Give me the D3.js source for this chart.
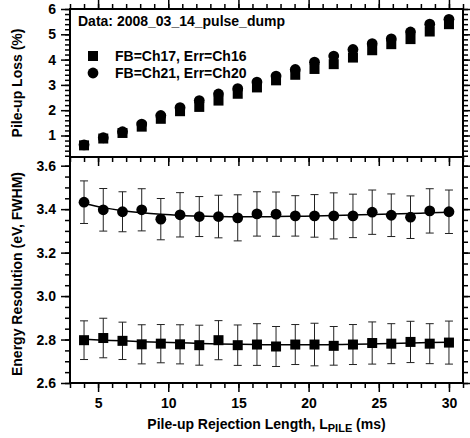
<!DOCTYPE html>
<html>
<head>
<meta charset="utf-8">
<script src="https://cdn.jsdelivr.net/npm/d3@7"></script>
<style>
  body { margin: 0; background: #fff; }
  svg text { font-family: "Liberation Sans", Arial, sans-serif; font-weight: bold; fill: #000; }
</style>
</head>
<body>
<svg id="chart" width="470" height="438"></svg>
<script>
// pile-up rejection length (ms)
const lengths = [4.0, 5.37, 6.74, 8.11, 9.47, 10.84, 12.21, 13.58, 14.95, 16.32,
                 17.68, 19.05, 20.42, 21.79, 23.16, 24.53, 25.89, 27.26, 28.63, 30.0];

// pile-up loss (%)
const lossCh17 = [0.61, 0.88, 1.10, 1.35, 1.66, 1.96, 2.13, 2.38, 2.65, 2.90,
                  3.18, 3.40, 3.63, 3.82, 4.08, 4.37, 4.61, 4.81, 5.11, 5.40];
const lossCh21 = [0.63, 0.91, 1.15, 1.45, 1.79, 2.10, 2.38, 2.64, 2.85, 3.11,
                  3.35, 3.61, 3.90, 4.14, 4.40, 4.63, 4.82, 5.09, 5.40, 5.59];

// energy resolution (eV FWHM) + errors + fit curves
const resCh17 = [2.797, 2.807, 2.794, 2.778, 2.781, 2.778, 2.774, 2.797, 2.774, 2.777,
                 2.768, 2.777, 2.777, 2.771, 2.777, 2.784, 2.781, 2.789, 2.781, 2.786];
const errCh17 = [0.089, 0.091, 0.086, 0.090, 0.088, 0.090, 0.092, 0.090, 0.093, 0.096,
                 0.092, 0.092, 0.098, 0.089, 0.092, 0.097, 0.092, 0.095, 0.092, 0.099];
const fitCh17 = [2.801, 2.797, 2.794, 2.790, 2.787, 2.785, 2.782, 2.780, 2.778, 2.777,
                 2.776, 2.776, 2.776, 2.777, 2.778, 2.780, 2.782, 2.784, 2.786, 2.788];
const resCh21 = [3.432, 3.397, 3.388, 3.397, 3.354, 3.374, 3.366, 3.366, 3.360, 3.378,
                 3.377, 3.369, 3.369, 3.369, 3.369, 3.386, 3.372, 3.363, 3.392, 3.388];
const errCh21 = [0.098, 0.098, 0.092, 0.097, 0.095, 0.102, 0.092, 0.098, 0.106, 0.102,
                 0.102, 0.093, 0.098, 0.106, 0.100, 0.102, 0.098, 0.098, 0.102, 0.100];
const fitCh21 = [3.426, 3.407, 3.393, 3.383, 3.376, 3.371, 3.368, 3.366, 3.365, 3.365,
                 3.366, 3.367, 3.369, 3.371, 3.373, 3.375, 3.378, 3.380, 3.383, 3.386];

const xTicks = [5, 10, 15, 20, 25, 30];
const lossTicks = [1, 2, 3, 4, 5, 6];
const resTicks = [2.6, 2.8, 3.0, 3.2, 3.4, 3.6];

const svg = d3.select("#chart");
const pLeft = 70, pRight = 463, pTop = 9, pMid = 157, pBottom = 383;

const x = d3.scaleLinear().domain([3, 31]).range([pLeft, pRight]);
const yLoss = d3.scaleLinear().domain([0.15, 6]).range([pMid, pTop]);
const yRes = d3.scaleLinear().domain([2.6, 3.64]).range([pBottom, pMid]);

const xMinor = d3.range(3, 31.01, 1);

function styleAxis(g) {
    g.select(".domain").remove();
    g.selectAll(".tick line").attr("stroke", "#000").attr("stroke-width", 1.5);
    g.selectAll(".tick text").attr("font-size", 14).style("font-family", "'Liberation Sans', Arial, sans-serif").style("font-weight", "bold");
}

function addAxis(axis, tx, ty) {
    svg.append("g").attr("transform", `translate(${tx},${ty})`).call(axis).call(styleAxis);
}

// ---- top panel axes ----
addAxis(d3.axisTop(x).tickValues(xMinor).tickSize(5).tickFormat(""), 0, pTop);
addAxis(d3.axisTop(x).tickValues(xTicks).tickSize(9).tickFormat(""), 0, pTop);
addAxis(d3.axisBottom(x).tickValues(xMinor).tickSize(5).tickFormat(""), 0, pMid);
addAxis(d3.axisBottom(x).tickValues(xTicks).tickSize(9).tickFormat(""), 0, pMid);
const lossMinor = d3.range(0.2, 6.01, 0.2);
addAxis(d3.axisLeft(yLoss).tickValues(lossMinor).tickSize(5).tickFormat(""), pLeft, 0);
addAxis(d3.axisLeft(yLoss).tickValues(lossTicks).tickSize(9).tickPadding(5).tickFormat(d3.format("d")), pLeft, 0);
addAxis(d3.axisRight(yLoss).tickValues(lossMinor).tickSize(5).tickFormat(""), pRight, 0);
addAxis(d3.axisRight(yLoss).tickValues(lossTicks).tickSize(9).tickFormat(""), pRight, 0);

// ---- bottom panel axes ----
addAxis(d3.axisBottom(x).tickValues(xMinor).tickSize(5).tickFormat(""), 0, pBottom);
addAxis(d3.axisBottom(x).tickValues(xTicks).tickSize(9).tickPadding(6).tickFormat(d3.format("d")), 0, pBottom);
const resMinor = d3.range(2.6, 3.6401, 0.05);
addAxis(d3.axisLeft(yRes).tickValues(resMinor).tickSize(5).tickFormat(""), pLeft, 0);
addAxis(d3.axisLeft(yRes).tickValues(resTicks).tickSize(9).tickPadding(5).tickFormat(d3.format(".1f")), pLeft, 0);
addAxis(d3.axisRight(yRes).tickValues(resMinor).tickSize(5).tickFormat(""), pRight, 0);
addAxis(d3.axisRight(yRes).tickValues(resTicks).tickSize(9).tickFormat(""), pRight, 0);

// frames
[[pTop, pMid], [pMid, pBottom]].forEach(([a, b]) => {
    svg.append("rect")
        .attr("x", pLeft).attr("y", a)
        .attr("width", pRight - pLeft).attr("height", b - a)
        .attr("fill", "none").attr("stroke", "#000").attr("stroke-width", 2);
});

// ---- top panel: pile-up loss ----
const sq = 10;
svg.append("g").selectAll("rect")
    .data(lengths.map((d, i) => [d, lossCh17[i]]))
    .join("rect")
    .attr("x", d => x(d[0]) - sq / 2).attr("y", d => yLoss(d[1]) - sq / 2)
    .attr("width", sq).attr("height", sq).attr("fill", "#000");
svg.append("g").selectAll("circle")
    .data(lengths.map((d, i) => [d, lossCh21[i]]))
    .join("circle")
    .attr("cx", d => x(d[0])).attr("cy", d => yLoss(d[1]))
    .attr("r", 5.4).attr("fill", "#000");

svg.append("text").attr("x", 78).attr("y", 26).attr("font-size", 14)
    .text("Data: 2008_03_14_pulse_dump");
svg.append("rect").attr("x", 93 - sq / 2).attr("y", 56 - sq / 2).attr("width", sq).attr("height", sq).attr("fill", "#000");
svg.append("circle").attr("cx", 93).attr("cy", 73).attr("r", 5.4).attr("fill", "#000");
svg.append("text").attr("x", 115).attr("y", 61).attr("font-size", 14).text("FB=Ch17, Err=Ch16");
svg.append("text").attr("x", 115).attr("y", 78).attr("font-size", 14).text("FB=Ch21, Err=Ch20");

// ---- bottom panel: energy resolution ----
function errorBars(vals, errs) {
    const g = svg.append("g").attr("stroke", "#222").attr("stroke-width", 1);
    lengths.forEach((lx, i) => {
        const cx = x(lx), y0 = yRes(vals[i] - errs[i]), y1 = yRes(vals[i] + errs[i]);
        g.append("line").attr("x1", cx).attr("x2", cx).attr("y1", y0).attr("y2", y1);
        g.append("line").attr("x1", cx - 4).attr("x2", cx + 4).attr("y1", y0).attr("y2", y0);
        g.append("line").attr("x1", cx - 4).attr("x2", cx + 4).attr("y1", y1).attr("y2", y1);
    });
}
errorBars(resCh21, errCh21);
errorBars(resCh17, errCh17);

const fitLine = vals => d3.line()
    .x((d, i) => x(lengths[i]))
    .y(d => yRes(d))
    .curve(d3.curveMonotoneX)(vals);
svg.append("path").attr("d", fitLine(fitCh21)).attr("fill", "none").attr("stroke", "#000").attr("stroke-width", 1.5);
svg.append("path").attr("d", fitLine(fitCh17)).attr("fill", "none").attr("stroke", "#000").attr("stroke-width", 1.5);

svg.append("g").selectAll("circle")
    .data(lengths.map((d, i) => [d, resCh21[i]]))
    .join("circle")
    .attr("cx", d => x(d[0])).attr("cy", d => yRes(d[1]))
    .attr("r", 5.4).attr("fill", "#000");
svg.append("g").selectAll("rect")
    .data(lengths.map((d, i) => [d, resCh17[i]]))
    .join("rect")
    .attr("x", d => x(d[0]) - sq / 2).attr("y", d => yRes(d[1]) - sq / 2)
    .attr("width", sq).attr("height", sq).attr("fill", "#000");

// ---- axis titles ----
svg.append("text")
    .attr("transform", `translate(22,${(pTop + pMid) / 2}) rotate(-90)`)
    .attr("text-anchor", "middle").attr("font-size", 14)
    .text("Pile-up Loss (%)");
svg.append("text")
    .attr("transform", `translate(22,${(pMid + pBottom) / 2 + 4}) rotate(-90)`)
    .attr("text-anchor", "middle").attr("font-size", 14)
    .text("Energy Resolution (eV, FWHM)");
const xt = svg.append("text")
    .attr("x", (pLeft + pRight) / 2).attr("y", 429)
    .attr("text-anchor", "middle").attr("font-size", 14);
xt.append("tspan").text("Pile-up Rejection Length, L");
xt.append("tspan").attr("font-size", 11).attr("dy", 3).text("PILE");
xt.append("tspan").attr("dy", -3).text(" (ms)");
</script>
</body>
</html>
